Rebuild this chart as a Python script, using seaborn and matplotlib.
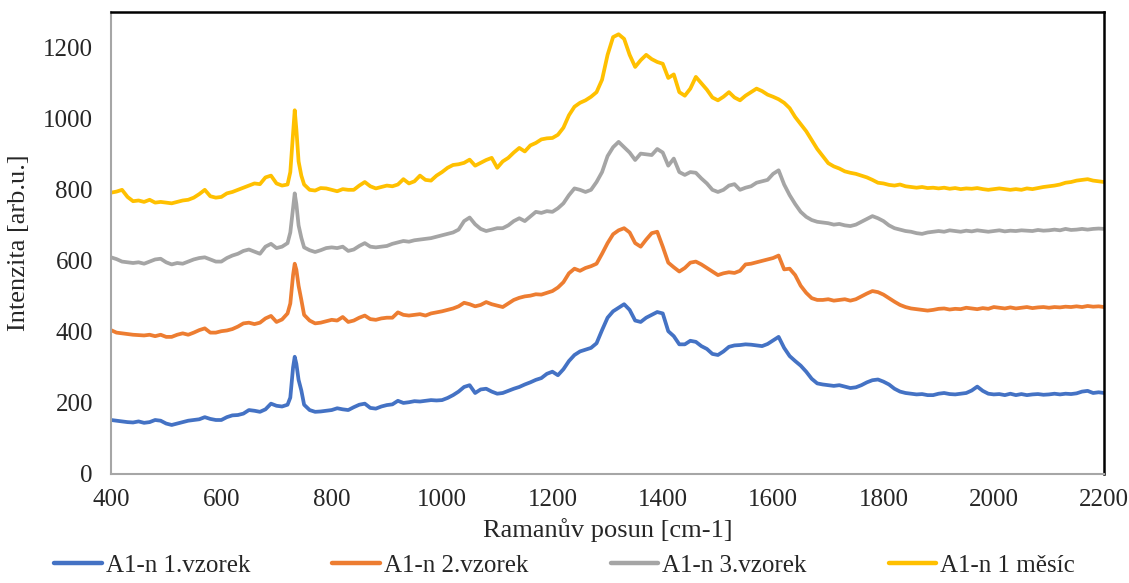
import numpy as np
import pandas as pd
import matplotlib
matplotlib.use("Agg")
import matplotlib.pyplot as plt
import seaborn as sns

# Ramanův posun [cm-1]
posun = ([400, 410, 420, 430, 440, 450, 460, 470, 480, 490, 500, 510, 520, 530, 540, 550,
          560, 570, 580, 590, 600, 610, 620, 630, 640, 650, 660, 670, 680, 690, 700, 710,
          720, 725, 730, 733, 736, 740, 745, 750]
         + list(range(760, 2210, 10)))

vzorek1 = [152, 150, 148, 146, 145, 148, 144, 146, 152, 150, 142, 138, 142, 146, 150, 152,
           154, 160, 155, 152, 152, 160, 165, 166, 170, 180, 178, 175, 182, 198, 192, 190,
           195, 215, 300, 330, 310, 265, 235, 195,
           180, 175, 176, 178, 180, 185, 182, 180, 188, 195, 198, 186, 184, 190, 194, 196,
           206, 200, 202, 205, 204, 206, 208, 207, 208, 214, 222, 232, 245, 250, 228, 238,
           240, 232, 226, 228, 234, 240, 245, 252, 258, 265, 270, 282, 288, 278, 295, 318,
           335, 345, 350, 355, 368, 405, 440, 458, 468, 478, 462, 432, 428, 440, 448, 456,
           452, 402, 388, 365, 365, 375, 372, 360, 352, 338, 335, 345, 358, 362, 363, 365,
           364, 362, 360, 366, 376, 386, 355, 332, 318, 305, 288, 268, 255, 252, 250, 248,
           250, 246, 242, 244, 250, 258, 264, 266, 260, 252, 240, 232, 228, 226, 224, 225,
           222, 222, 226, 228, 225, 224, 226, 228, 235, 246, 234, 226, 224, 225, 222, 226,
           222, 225, 222, 224, 225, 223, 224, 226, 224, 226, 225, 227, 232, 234, 228, 230,
           228]

vzorek2 = [405, 398, 396, 394, 392, 391, 390, 392, 388, 392, 386, 386, 392, 396, 392, 398,
           405, 410, 398, 398, 402, 404, 408, 415, 424, 426, 422, 426, 438, 445, 428, 435,
           452, 480, 560, 592, 575, 530, 490, 448,
           432, 424, 426, 430, 434, 432, 442, 428, 432, 440, 446, 436, 434, 438, 440, 440,
           455, 448, 446, 448, 450, 446, 452, 455, 458, 462, 466, 472, 482, 478, 472, 476,
           484, 478, 474, 470, 480, 490, 496, 500, 502, 506, 505, 510, 515, 525, 540, 565,
           578, 572, 580, 585, 592, 620, 650, 675, 686, 692, 680, 650, 640, 660, 678, 682,
           640, 595, 582, 570, 580, 595, 598, 590, 580, 570, 560, 565, 568, 566, 572, 590,
           592, 596, 600, 604, 608, 615, 576, 578, 560, 530, 510, 495, 490, 490, 492, 488,
           490, 492, 488, 492, 500, 508, 515, 512, 505, 495, 485, 476, 470, 466, 464, 462,
           460, 462, 465, 466, 463, 465, 464, 468, 466, 464, 467, 465, 470, 468, 466, 469,
           466, 468, 470, 467, 469, 470, 468, 470, 469, 471, 470, 472, 470, 473, 471, 472,
           470]

vzorek3 = [610, 605, 598, 596, 594, 596, 592, 598, 604, 606, 596, 590, 594, 592, 598, 604,
           608, 610, 604, 598, 598, 608, 615, 620, 628, 632, 626, 620, 640, 648, 636, 640,
           650, 680, 750, 790, 760, 700, 665, 638,
           630, 625, 630, 636, 638, 636, 640, 628, 632, 642, 650, 640, 638, 640, 642, 648,
           652, 656, 654, 658, 660, 662, 664, 668, 672, 676, 680, 688, 712, 722, 703, 690,
           684, 688, 692, 692, 700, 712, 720, 712, 725, 738, 735, 740, 738, 748, 762, 785,
           804, 800, 794, 800, 822, 850, 895, 920, 935, 920, 905, 884, 902, 900, 898, 915,
           905, 868, 888, 850, 842, 850, 848, 832, 818, 800, 794, 800, 812, 816, 800, 806,
           810, 820, 824, 828, 845, 855, 815, 785, 760, 738, 724, 715, 710, 708, 706, 702,
           704, 700, 698, 702, 710, 718, 726, 720, 712, 700, 692, 688, 684, 682, 678, 676,
           680, 682, 684, 682, 686, 684, 682, 685, 683, 686, 684, 682, 684, 686, 683, 685,
           684, 686, 685, 684, 687, 685, 686, 688, 686, 690, 687, 688, 690, 688, 690, 691,
           690]

mesic1 = [792, 795, 800, 780, 768, 770, 766, 772, 764, 766, 764, 762, 766, 770, 772, 778,
          788, 800, 782, 778, 780, 790, 794, 800, 806, 812, 818, 816, 835, 840, 818, 812,
          815, 850, 960, 1024, 970, 880, 840, 815,
          800, 798, 805, 804, 800, 796, 802, 800, 800, 812, 822, 810, 804, 808, 812, 810,
          815, 830, 818, 824, 840, 828, 826, 840, 850, 862, 870, 872, 876, 885, 868, 876,
          884, 890, 862, 880, 890, 905, 918, 908, 925, 932, 942, 945, 946, 955, 975, 1010,
          1034, 1045, 1052, 1062, 1075, 1110, 1180, 1230, 1238, 1225, 1180, 1146, 1165, 1180, 1168, 1160,
          1155, 1115, 1125, 1075, 1065, 1085, 1118, 1100, 1082, 1060, 1052, 1062, 1075, 1060, 1052, 1065,
          1075, 1085, 1078, 1068, 1062, 1055, 1045, 1030, 1005, 985, 965, 940, 915, 895, 875, 866,
          860, 852, 848, 845, 840, 835, 828, 820, 818, 814, 812, 815, 810, 808, 806, 808,
          805, 806, 804, 806, 803, 805, 802, 804, 803, 805, 802, 800, 802, 804, 802, 800,
          802, 800, 804, 802, 805, 808, 810, 812, 815, 820, 822, 826, 828, 830, 826, 824,
          822]

nazvy = ["A1-n 1.vzorek", "A1-n 2.vzorek", "A1-n 3.vzorek", "A1-n 1 měsíc"]
barvy = ["#4472C4", "#ED7D31", "#A5A5A5", "#FFC000"]

df = pd.concat([pd.DataFrame({"posun": posun, "intenzita": y, "vzorek": n})
                for y, n in zip([vzorek1, vzorek2, vzorek3, mesic1], nazvy)])

sns.set_style("white")
plt.rcParams["font.family"] = ["Liberation Serif", "DejaVu Serif"]

fig = plt.figure(figsize=(11.29, 5.83), dpi=100)
ax = fig.add_axes([0.0983, 0.187, 0.8797, 0.792])

sns.lineplot(data=df, x="posun", y="intenzita", hue="vzorek", palette=barvy,
             linewidth=2.7, ax=ax, legend=True, sort=False)

ax.set_xlim(400, 2200)
ax.set_ylim(0, 1300)
ax.set_xticks(range(400, 2201, 200))
ax.set_yticks(range(0, 1201, 200))
ax.tick_params(length=0, labelsize=18)
ax.tick_params(axis="x", pad=11)
ax.tick_params(axis="y", pad=13)
ax.set_xlabel("Ramanův posun [cm-1]", fontsize=19, labelpad=5)
ax.set_ylabel("Intenzita [arb.u.]", fontsize=19, labelpad=9)

for s in ["left", "bottom"]:
    ax.spines[s].set_color("#A6A6A6")
    ax.spines[s].set_linewidth(1.5)
for s in ["top", "right"]:
    ax.spines[s].set_color("black")
    ax.spines[s].set_linewidth(1.8)

handles, labels = ax.get_legend_handles_labels()
for h in handles:
    h.set_linewidth(3.2)
ax.legend_.remove()
fig.legend(handles, labels, loc="lower center", ncol=4, frameon=False,
           fontsize=18, bbox_to_anchor=(0.5, -0.028), columnspacing=3.3,
           handlelength=1.9, handletextpad=0.15)

fig.savefig("out.png", dpi=100)
